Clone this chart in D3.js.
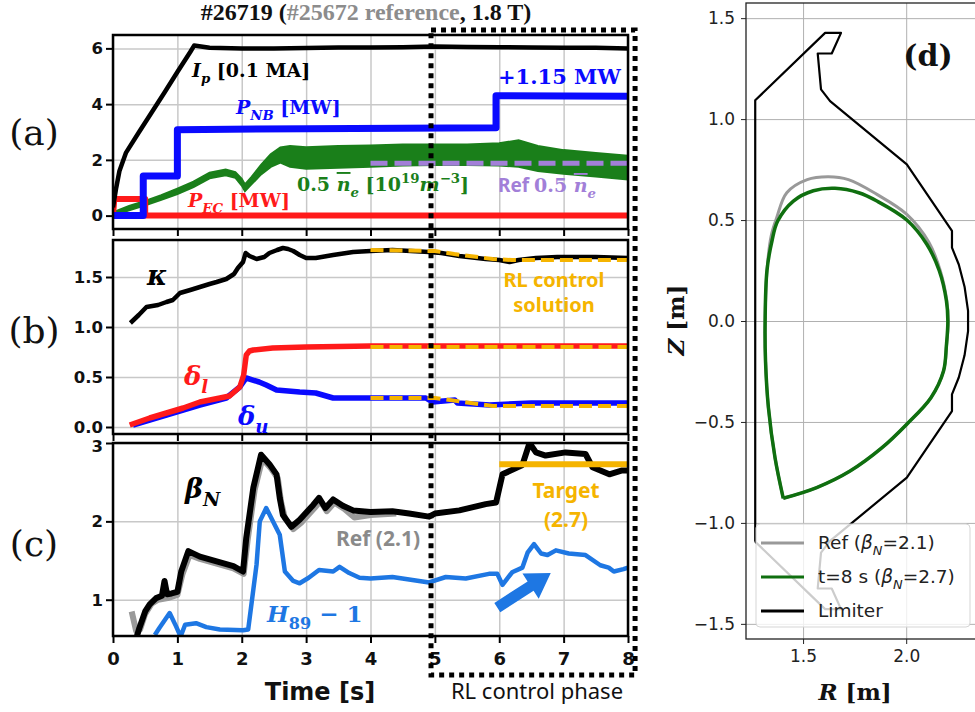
<!DOCTYPE html>
<html>
<head>
<meta charset="utf-8">
<script src="https://cdn.jsdelivr.net/npm/d3@7"></script>
<style>
  body { margin: 0; background: #fff; }
</style>
</head>
<body>
<div id="chart"></div>
<script>
// ---- data ----
// (a)
const ipTime = [0, 0.05, 0.1, 0.2, 0.4, 0.6, 0.8, 1.0, 1.2, 1.26, 1.5, 2, 2.5, 3, 3.5, 4, 4.5, 5, 5.5, 6, 6.5, 7, 7.5, 8]
const ipVal = [0.3, 1.0, 1.6, 2.25, 2.98, 3.7, 4.42, 5.15, 5.87, 6.1, 6.02, 6.0, 6.0, 6.01, 6.03, 6.03, 6.04, 6.07, 6.05, 6.04, 6.03, 6.02, 6.02, 6.0]
const pnbTime = [0, 0.47, 0.47, 1.0, 1.0, 3, 5.95, 5.95, 8]
const pnbVal = [0, 0, 1.42, 1.42, 3.08, 3.12, 3.15, 4.3, 4.28]
const pecTime = [0, 0.02, 0.5, 0.5, 8]
const pecVal = [0, 0.6, 0.6, 0, 0]
const neTime = [0, 0.25, 0.5, 0.75, 1.0, 1.25, 1.5, 1.75, 1.9, 2.0, 2.05, 2.15, 2.3, 2.45, 2.6, 2.75, 3.0, 3.5, 4.0, 4.5, 5.0, 5.5, 6.0, 6.3, 6.6, 7.0, 7.5, 8.0]
const neHigh = [0.12, 0.35, 0.53, 0.73, 0.97, 1.22, 1.54, 1.65, 1.56, 1.32, 1.12, 1.38, 1.82, 2.2, 2.45, 2.5, 2.45, 2.5, 2.52, 2.55, 2.55, 2.55, 2.6, 2.7, 2.5, 2.35, 2.25, 2.15]
const neLow = [0, 0.19, 0.37, 0.57, 0.77, 1.02, 1.34, 1.45, 1.36, 1.08, 0.88, 1.12, 1.48, 1.75, 1.9, 1.75, 1.68, 1.72, 1.75, 1.8, 1.82, 1.82, 1.8, 1.75, 1.6, 1.5, 1.4, 1.3]
const neRefTime = [4, 8]
const neRefVal = [1.88, 1.88]

// (b)
const kappaTime = [0.27, 0.4, 0.52, 0.7, 0.83, 0.93, 1.04, 1.2, 1.35, 1.5, 1.61, 1.76, 1.88, 1.94, 2.02, 2.06, 2.12, 2.23, 2.35, 2.43, 2.55, 2.64, 2.72, 2.8, 2.9, 3.0, 3.15, 3.42, 3.73, 4.0, 4.34, 4.91, 5.1, 5.38, 5.79, 6.0, 6.16, 6.3, 6.57, 6.9, 7.5, 8.0]
const kappaVal = [1.04, 1.12, 1.2, 1.22, 1.25, 1.27, 1.34, 1.37, 1.40, 1.43, 1.45, 1.48, 1.53, 1.59, 1.65, 1.74, 1.71, 1.68, 1.7, 1.74, 1.77, 1.79, 1.78, 1.76, 1.72, 1.69, 1.69, 1.72, 1.75, 1.76, 1.77, 1.75, 1.74, 1.71, 1.68, 1.67, 1.65, 1.67, 1.69, 1.70, 1.70, 1.69]
const kappaRLTime = [4, 5, 5.3, 5.9, 6.2, 8]
const kappaRLVal = [1.77, 1.76, 1.73, 1.68, 1.67, 1.67]
const dlTime = [0.26, 0.57, 0.83, 1.09, 1.35, 1.66, 1.81, 1.97, 2.03, 2.07, 2.12, 2.18, 2.48, 3.0, 4.0, 5, 6, 7, 8]
const dlVal = [0.02, 0.09, 0.14, 0.19, 0.25, 0.29, 0.31, 0.40, 0.52, 0.72, 0.76, 0.77, 0.79, 0.80, 0.81, 0.81, 0.81, 0.81, 0.81]
const dlRLTime = [4, 8]
const dlRLVal = [0.80, 0.80]
const duTime = [0.31, 0.83, 1.35, 1.76, 1.97, 2.07, 2.27, 2.38, 2.54, 2.9, 3.15, 3.42, 4.0, 4.86, 4.96, 5.31, 5.35, 5.85, 6.5, 8]
const duVal = [0.02, 0.12, 0.22, 0.29, 0.40, 0.49, 0.45, 0.42, 0.37, 0.35, 0.34, 0.29, 0.29, 0.29, 0.25, 0.27, 0.24, 0.22, 0.24, 0.24]
const duRLTime = [4, 5, 5.9, 8]
const duRLVal = [0.29, 0.29, 0.21, 0.21]

// (c)
const betaTime = [0.37, 0.41, 0.5, 0.57, 0.67, 0.76, 0.8, 0.84, 0.91, 1.0, 1.06, 1.17, 1.35, 1.61, 1.87, 2.02, 2.07, 2.18, 2.3, 2.43, 2.54, 2.59, 2.64, 2.77, 2.9, 3.11, 3.2, 3.3, 3.42, 3.57, 3.73, 4.0, 4.34, 4.6, 4.91, 5.0, 5.38, 5.79, 5.95, 6.05, 6.26, 6.36, 6.47, 6.57, 6.72, 7.03, 7.34, 7.45, 7.71, 7.91, 8.0]
const betaVal = [0.53, 0.64, 0.85, 0.94, 1.02, 1.05, 1.24, 1.07, 1.08, 1.1, 1.36, 1.62, 1.55, 1.49, 1.43, 1.36, 1.79, 2.43, 2.85, 2.73, 2.6, 2.3, 2.08, 1.93, 2.02, 2.21, 2.3, 2.17, 2.28, 2.2, 2.14, 2.12, 2.13, 2.1, 2.06, 2.1, 2.14, 2.22, 2.24, 2.6, 2.68, 2.72, 3.0, 2.88, 2.84, 2.88, 2.86, 2.69, 2.6, 2.65, 2.65]
const betaRefTime = [0.29, 0.36, 0.42, 0.5, 0.6, 0.7, 0.85, 1.0, 1.08, 1.19, 1.35, 1.61, 1.87, 2.03, 2.09, 2.2, 2.32, 2.45, 2.56, 2.61, 2.67, 2.8, 2.92, 3.13, 3.22, 3.32, 3.44, 3.59, 3.75, 4.0, 4.4]
const betaRefVal = [0.85, 0.6, 0.62, 0.82, 0.95, 1.0, 1.02, 1.06, 1.33, 1.57, 1.52, 1.46, 1.40, 1.33, 1.75, 2.4, 2.8, 2.68, 2.55, 2.25, 2.04, 1.9, 1.98, 2.17, 2.26, 2.13, 2.24, 2.16, 2.05, 2.08, 2.1]
const h89Time = [0.65, 0.72, 0.88, 0.98, 1.05, 1.12, 1.29, 1.45, 1.66, 2.02, 2.1, 2.23, 2.28, 2.38, 2.59, 2.67, 2.8, 2.9, 3.04, 3.2, 3.42, 3.52, 3.67, 3.83, 4.0, 4.34, 4.91, 5.17, 5.48, 5.84, 5.97, 6.05, 6.2, 6.36, 6.44, 6.54, 6.65, 6.75, 6.88, 7.08, 7.34, 7.57, 7.7, 7.78, 7.93, 8.0]
const h89Val = [0.55, 0.64, 0.83, 0.66, 0.53, 0.68, 0.70, 0.65, 0.62, 0.61, 0.62, 1.45, 2.0, 2.17, 1.83, 1.36, 1.24, 1.21, 1.28, 1.38, 1.36, 1.42, 1.34, 1.28, 1.27, 1.29, 1.22, 1.29, 1.27, 1.33, 1.33, 1.19, 1.35, 1.41, 1.6, 1.71, 1.59, 1.57, 1.63, 1.59, 1.57, 1.44, 1.41, 1.36, 1.39, 1.41]
const targetTime = [6, 8]
const targetVal = [2.73, 2.73]
const arrowFrom = [5.97, 0.90], arrowTo = [6.8, 1.34]

// (d)
const limR = [1.268, 1.268, 1.607, 1.684, 1.639, 1.571, 1.587, 1.631, 2.003, 2.222, 2.222, 2.255, 2.283, 2.300, 2.300, 2.283, 2.255, 2.222, 2.222, 2.003, 1.631, 1.587, 1.571, 1.639, 1.684, 1.607, 1.268]
const limZ = [-1.093, 1.093, 1.427, 1.427, 1.325, 1.325, 1.147, 1.089, 0.776, 0.446, 0.363, 0.28, 0.17, 0.05, -0.05, -0.17, -0.28, -0.363, -0.446, -0.776, -1.089, -1.147, -1.325, -1.325, -1.427, -1.427, -1.093]
const greenR = [1.404, 1.364, 1.332, 1.318, 1.316, 1.325, 1.350, 1.377, 1.453, 1.55, 1.655, 1.77, 1.858, 2.003, 2.10, 2.16, 2.195, 2.202, 2.195, 2.181, 2.12, 2.003, 1.88, 1.728, 1.566, 1.404]
const greenZ = [-0.878, -0.677, -0.429, -0.2, 0.0, 0.25, 0.40, 0.495, 0.594, 0.645, 0.657, 0.635, 0.594, 0.50, 0.38, 0.25, 0.1, 0.0, -0.12, -0.248, -0.38, -0.511, -0.63, -0.743, -0.825, -0.878]
const refR = [1.404, 1.364, 1.332, 1.318, 1.316, 1.325, 1.345, 1.372, 1.421, 1.52, 1.623, 1.72, 1.858, 2.003, 2.11, 2.165, 2.197, 2.204, 2.196, 2.181, 2.12, 2.003, 1.88, 1.728, 1.566, 1.404]
const refZ = [-0.878, -0.677, -0.429, -0.2, 0.0, 0.25, 0.42, 0.511, 0.635, 0.70, 0.714, 0.70, 0.627, 0.528, 0.39, 0.25, 0.1, 0.0, -0.12, -0.248, -0.38, -0.511, -0.63, -0.743, -0.825, -0.878]

const timeTicks = [0, 1, 2, 3, 4, 5, 6, 7, 8]

// ---- colours ----
const GRID = '#c8c8c8', YELLOW = '#f5b400', GREEN = '#1a7f1a', LBLUE = '#1e77e3', PURPLE = '#a27fd8'

const zip = (t, v) => t.map((d, i) => [d, v[i]])

const svg = d3.select('#chart').append('svg')
  .attr('width', 975).attr('height', 712)
  .style('font-family', 'DejaVu Sans')

const x = d3.scaleLinear().domain([0, 8]).range([113, 628])

const panels = {
  a: { y: d3.scaleLinear().domain([-0.48, 6.48]).range([229, 35]), ticks: [0, 2, 4, 6], fmt: d3.format('d') },
  b: { y: d3.scaleLinear().domain([-0.07, 1.87]).range([434, 240]), ticks: [0, 0.5, 1, 1.5], fmt: d3.format('.1f') },
  c: { y: d3.scaleLinear().domain([0.537, 3]).range([636, 443]), ticks: [1, 2, 3], fmt: d3.format('d') }
}

// 文字：可帶下標/上標/斜體
function richText(sel, px, py, parts, opt) {
  const t = sel.append('text').attr('x', px).attr('y', py)
    .attr('fill', opt.color).attr('font-size', opt.size)
    .attr('font-family', opt.font || 'DejaVu Serif')
    .attr('font-weight', opt.weight || 'bold')
    .attr('text-anchor', opt.anchor || 'start')
  let shift = 0
  parts.forEach(p => {
    const target = p.sub ? opt.size * 0.3 : p.sup ? -opt.size * 0.42 : 0
    const ts = t.append('tspan').text(p.t).attr('dy', target - shift)
    shift = target
    if (p.sub || p.sup) ts.attr('font-size', opt.size * 0.7)
    if (p.it) ts.attr('font-style', 'italic')
    if (p.over) ts.attr('text-decoration', 'overline')
    if (p.font) ts.attr('font-family', p.font)
    if (p.color) ts.attr('fill', p.color)
  })
  return t
}

// ---- left panels: frame, grid, ticks ----
Object.entries(panels).forEach(([key, p]) => {
  const [y0, y1] = p.y.range()
  const g = svg.append('g').attr('class', 'panel-' + key)
  p.g = g

  g.append('clipPath').attr('id', 'clip-' + key)
    .append('rect').attr('x', x(0)).attr('y', y1).attr('width', x(8) - x(0)).attr('height', y0 - y1)

  // grid
  g.append('g').attr('transform', `translate(0,${y0})`)
    .call(d3.axisBottom(x).tickValues(timeTicks).tickSize(-(y0 - y1)).tickFormat(''))
    .call(s => s.select('.domain').remove())
    .call(s => s.selectAll('line').attr('stroke', GRID).attr('stroke-width', 1.5))
  g.append('g').attr('transform', `translate(${x(0)},0)`)
    .call(d3.axisLeft(p.y).tickValues(p.ticks).tickSize(-(x(8) - x(0))).tickFormat(''))
    .call(s => s.select('.domain').remove())
    .call(s => s.selectAll('line').attr('stroke', GRID).attr('stroke-width', 1.5))

  p.plot = g.append('g').attr('clip-path', `url(#clip-${key})`)

  // ticks
  g.append('g').attr('transform', `translate(0,${y0})`)
    .call(d3.axisBottom(x).tickValues(timeTicks).tickSize(7).tickPadding(9)
      .tickFormat(key === 'c' ? d3.format('d') : ''))
    .call(s => s.select('.domain').remove())
    .call(s => s.selectAll('line').attr('stroke', '#000').attr('stroke-width', 2))
    .call(s => s.selectAll('text').attr('font-size', 18).attr('font-weight', 'bold')
      .attr('font-family', 'DejaVu Sans').attr('fill', '#111'))
  g.append('g').attr('transform', `translate(${x(0)},0)`)
    .call(d3.axisLeft(p.y).tickValues(p.ticks).tickSize(7).tickPadding(3).tickFormat(p.fmt))
    .call(s => s.select('.domain').remove())
    .call(s => s.selectAll('line').attr('stroke', '#000').attr('stroke-width', 2))
    .call(s => s.selectAll('text').attr('font-size', 16.5).attr('font-weight', 'bold')
      .attr('font-family', 'DejaVu Sans').attr('fill', '#111'))
    // 上方標籤稍微往下，避免和上一格的 0.0 重疊
    .call(s => s.selectAll('.tick text').filter(d => key === 'c' && d === 3).attr('y', 3))
})

function trace(p, t, v, color, width, dash) {
  const path = p.plot.append('path')
    .datum(zip(t, v))
    .attr('fill', 'none')
    .attr('stroke', color)
    .attr('stroke-width', width)
    .attr('stroke-linejoin', 'round')
    .attr('d', d3.line().x(d => x(d[0])).y(d => p.y(d[1])))
  if (dash) path.attr('stroke-dasharray', dash)
  return path
}

// ---- (a) ----
const pa = panels.a
pa.plot.append('path')
  .datum(neTime.map((t, i) => ({ t, hi: neHigh[i], lo: neLow[i] })))
  .attr('fill', GREEN).attr('stroke', GREEN).attr('stroke-width', 2)
  .attr('d', d3.area().x(d => x(d.t)).y0(d => pa.y(d.lo)).y1(d => pa.y(d.hi)))
trace(pa, pecTime, pecVal, '#ff1a1a', 6)
trace(pa, pnbTime, pnbVal, '#0a0aff', 7)
trace(pa, ipTime, ipVal, '#000', 4.5)
trace(pa, neRefTime, neRefVal, PURPLE, 5, '17,7')

// ---- (b) ----
const pb = panels.b
trace(pb, kappaTime, kappaVal, '#000', 4.5)
trace(pb, duTime, duVal, '#0a0aff', 5.5)
trace(pb, dlTime, dlVal, '#ff1a1a', 5.5)
trace(pb, kappaRLTime, kappaRLVal, YELLOW, 4, '13,6')
trace(pb, dlRLTime, dlRLVal, YELLOW, 4, '13,6')
trace(pb, duRLTime, duRLVal, YELLOW, 4, '13,6')

// ---- (c) ----
const pc = panels.c
trace(pc, betaRefTime, betaRefVal, '#9a9a9a', 6)
trace(pc, betaTime, betaVal, '#000', 6)
trace(pc, h89Time, h89Val, LBLUE, 4.5)
trace(pc, targetTime, targetVal, YELLOW, 6)

// arrow
{
  const p0 = [x(arrowFrom[0]), pc.y(arrowFrom[1])], p1 = [x(arrowTo[0]), pc.y(arrowTo[1])]
  const dx = p1[0] - p0[0], dy = p1[1] - p0[1], len = Math.hypot(dx, dy)
  const ux = dx / len, uy = dy / len, nx = -uy, ny = ux
  const hl = 24, hw = 15, sw = 5.5
  const b = [p1[0] - ux * hl, p1[1] - uy * hl]
  const pts = [
    [p0[0] + nx * sw, p0[1] + ny * sw], [b[0] + nx * sw, b[1] + ny * sw], [b[0] + nx * hw, b[1] + ny * hw],
    p1, [b[0] - nx * hw, b[1] - ny * hw], [b[0] - nx * sw, b[1] - ny * sw], [p0[0] - nx * sw, p0[1] - ny * sw]
  ]
  svg.append('polygon').attr('points', pts.map(d => d.join(',')).join(' ')).attr('fill', LBLUE)
}

// spines
Object.values(panels).forEach(p => {
  const [y0, y1] = p.y.range()
  p.g.append('rect').attr('x', x(0)).attr('y', y1).attr('width', x(8) - x(0)).attr('height', y0 - y1)
    .attr('fill', 'none').attr('stroke', '#000').attr('stroke-width', 2.5)
})

// ---- labels left ----
richText(svg, 366, 20, [{ t: '#26719 (' }, { t: '#25672 reference', color: '#8c8c8c' }, { t: ', 1.8 T)' }],
  { font: 'Liberation Serif', color: '#111', size: 24, anchor: 'middle' })

const serifLbl = { font: 'DejaVu Serif', weight: 'normal', color: '#111', size: 36, anchor: 'middle' }
richText(svg, 34, 145, [{ t: '(a)' }], serifLbl)
richText(svg, 34, 343, [{ t: '(b)' }], serifLbl)
richText(svg, 34, 556, [{ t: '(c)' }], serifLbl)

richText(svg, 192, 77, [{ t: 'I', it: true }, { t: 'p', it: true, sub: true }, { t: ' [0.1 MA]' }], { color: '#000', size: 19 })
richText(svg, 236, 114, [{ t: 'P', it: true }, { t: 'NB', it: true, sub: true }, { t: ' [MW]' }], { color: '#0a0aff', size: 19 })
richText(svg, 498, 84, [{ t: '+1.15 MW' }], { color: '#0a0aff', size: 21 })
richText(svg, 188, 207, [{ t: 'P', it: true }, { t: 'EC', it: true, sub: true }, { t: ' [MW]' }], { color: '#ff1a1a', size: 19 })
richText(svg, 297, 191, [{ t: '0.5 ' }, { t: 'n', it: true, over: true }, { t: 'e', it: true, sub: true },
  { t: ' [10' }, { t: '19', sup: true }, { t: 'm', it: true }, { t: '−3', sup: true }, { t: ']' }],
  { color: GREEN, size: 19 })
richText(svg, 498, 192, [{ t: 'Ref ', font: 'Noto Sans' }, { t: '0.5 ' }, { t: 'n', it: true, over: true }, { t: 'e', it: true, sub: true }],
  { color: PURPLE, size: 19 })

richText(svg, 147, 285, [{ t: 'κ', it: true }], { color: '#000', size: 27 })
richText(svg, 184, 385, [{ t: 'δ', it: true }, { t: 'l', it: true, sub: true }], { color: '#ff1a1a', size: 26 })
richText(svg, 238, 425, [{ t: 'δ', it: true }, { t: 'u', it: true, sub: true }], { color: '#0a0aff', size: 26 })
const sansY = { font: 'Noto Sans', weight: 'bold', color: YELLOW, size: 20, anchor: 'middle' }
richText(svg, 554, 287, [{ t: 'RL control' }], sansY)
richText(svg, 554, 312, [{ t: 'solution' }], sansY)

richText(svg, 185, 498, [{ t: 'β', it: true }, { t: 'N', it: true, sub: true }], { color: '#000', size: 27 })
richText(svg, 378, 546, [{ t: 'Ref (2.1)' }], { font: 'Noto Sans', weight: 'bold', color: '#8a8a8a', size: 21, anchor: 'middle' })
richText(svg, 267, 622, [{ t: 'H', it: true }, { t: '89', sub: true }, { t: ' − 1' }], { color: LBLUE, size: 23 })
richText(svg, 566, 498, [{ t: 'Target' }], { ...sansY, size: 21 })
richText(svg, 566, 527, [{ t: '(2.7)' }], { ...sansY, size: 21 })

svg.append('text').attr('x', 320).attr('y', 700).attr('text-anchor', 'middle')
  .attr('font-size', 24).attr('font-weight', 'bold').attr('fill', '#111').text('Time [s]')
svg.append('text').attr('x', 537).attr('y', 699).attr('text-anchor', 'middle')
  .attr('font-family', 'Noto Sans').attr('font-size', 22).attr('fill', '#111').text('RL control phase')

// dotted box (RL control phase)
svg.append('rect')
  .attr('x', x(4.94)).attr('y', 30).attr('width', x(8.11) - x(4.94)).attr('height', 645)
  .attr('fill', 'none').attr('stroke', '#000').attr('stroke-width', 5).attr('stroke-dasharray', '5,5')

// ---- (d) ----
const R = d3.scaleLinear().domain([1.2233, 2.45]).range([746, 999])
const Z = d3.scaleLinear().domain([-1.575, 1.575]).range([639, 3])
const gd = svg.append('g')
gd.append('clipPath').attr('id', 'clip-d').append('rect')
  .attr('x', R.range()[0]).attr('y', Z.range()[1]).attr('width', R.range()[1] - R.range()[0]).attr('height', Z.range()[0] - Z.range()[1])

gd.append('g').attr('transform', `translate(0,${Z.range()[0]})`)
  .call(d3.axisBottom(R).tickValues([1.5, 2.0]).tickSize(-(Z.range()[0] - Z.range()[1])).tickFormat(''))
  .call(s => s.select('.domain').remove())
  .call(s => s.selectAll('line').attr('stroke', '#b0b0b0').attr('stroke-width', 1))
gd.append('g').attr('transform', `translate(${R.range()[0]},0)`)
  .call(d3.axisLeft(Z).tickValues([-1.5, -1, -0.5, 0, 0.5, 1, 1.5]).tickSize(-(R.range()[1] - R.range()[0])).tickFormat(''))
  .call(s => s.select('.domain').remove())
  .call(s => s.selectAll('line').attr('stroke', '#b0b0b0').attr('stroke-width', 1))

const shapes = gd.append('g').attr('clip-path', 'url(#clip-d)')
const rz = d3.line().x(d => R(d[0])).y(d => Z(d[1]))
shapes.append('path').datum(zip(limR, limZ)).attr('fill', 'none').attr('stroke', '#000').attr('stroke-width', 2.2)
  .attr('stroke-linejoin', 'round').attr('d', rz)
shapes.append('path').datum(zip(refR, refZ)).attr('fill', 'none').attr('stroke', '#999').attr('stroke-width', 3)
  .attr('d', rz.curve(d3.curveCatmullRom.alpha(0.5)))
shapes.append('path').datum(zip(greenR, greenZ)).attr('fill', 'none').attr('stroke', '#0f6f0f').attr('stroke-width', 3.5)
  .attr('d', rz.curve(d3.curveCatmullRom.alpha(0.5)))

// legend
const lg = gd.append('g')
lg.append('rect').attr('x', 756).attr('y', 524).attr('width', 214).attr('height', 103).attr('rx', 4)
  .attr('fill', 'rgba(255,255,255,0.8)').attr('stroke', '#d5d5d5')
const legendItems = [
  { color: '#999', parts: [{ t: 'Ref (' }, { t: 'β', it: true }, { t: 'N', it: true, sub: true }, { t: '=2.1)' }] },
  { color: '#0f6f0f', parts: [{ t: 't=8 s (' }, { t: 'β', it: true }, { t: 'N', it: true, sub: true }, { t: '=2.7)' }] },
  { color: '#000', parts: [{ t: 'Limiter' }] }
]
legendItems.forEach((d, i) => {
  const yy = 543 + i * 34
  lg.append('line').attr('x1', 761).attr('x2', 804).attr('y1', yy).attr('y2', yy)
    .attr('stroke', d.color).attr('stroke-width', 3)
  richText(lg, 818, yy + 6, d.parts, { font: 'DejaVu Sans', weight: 'normal', color: '#222', size: 18.5 })
})

// axes d
gd.append('g').attr('transform', `translate(0,${Z.range()[0]})`)
  .call(d3.axisBottom(R).tickValues([1.5, 2.0]).tickSize(5).tickPadding(6).tickFormat(d3.format('.1f')))
  .call(s => s.select('.domain').remove())
  .call(s => s.selectAll('line').attr('stroke', '#222'))
  .call(s => s.selectAll('text').attr('font-size', 17).attr('fill', '#222').attr('font-family', 'DejaVu Sans'))
gd.append('g').attr('transform', `translate(${R.range()[0]},0)`)
  .call(d3.axisLeft(Z).tickValues([-1.5, -1, -0.5, 0, 0.5, 1, 1.5]).tickSize(5).tickPadding(6).tickFormat(d3.format('.1f')))
  .call(s => s.select('.domain').remove())
  .call(s => s.selectAll('line').attr('stroke', '#222'))
  .call(s => s.selectAll('text').attr('font-size', 17).attr('fill', '#222').attr('font-family', 'DejaVu Sans'))
gd.append('rect').attr('x', R.range()[0]).attr('y', Z.range()[1])
  .attr('width', R.range()[1] - R.range()[0]).attr('height', Z.range()[0] - Z.range()[1])
  .attr('fill', 'none').attr('stroke', '#222').attr('stroke-width', 1.3)

richText(svg, 928, 66, [{ t: '(d)' }], { font: 'DejaVu Serif', color: '#111', size: 30, anchor: 'middle' })
richText(svg, 855, 700, [{ t: 'R', it: true }, { t: ' [m]' }], { color: '#111', size: 23, anchor: 'middle' })
richText(svg.append('g').attr('transform', 'translate(684,320) rotate(-90)'), 0, 0,
  [{ t: 'Z', it: true }, { t: ' [m]' }], { color: '#111', size: 23, anchor: 'middle' })
</script>
</body>
</html>
